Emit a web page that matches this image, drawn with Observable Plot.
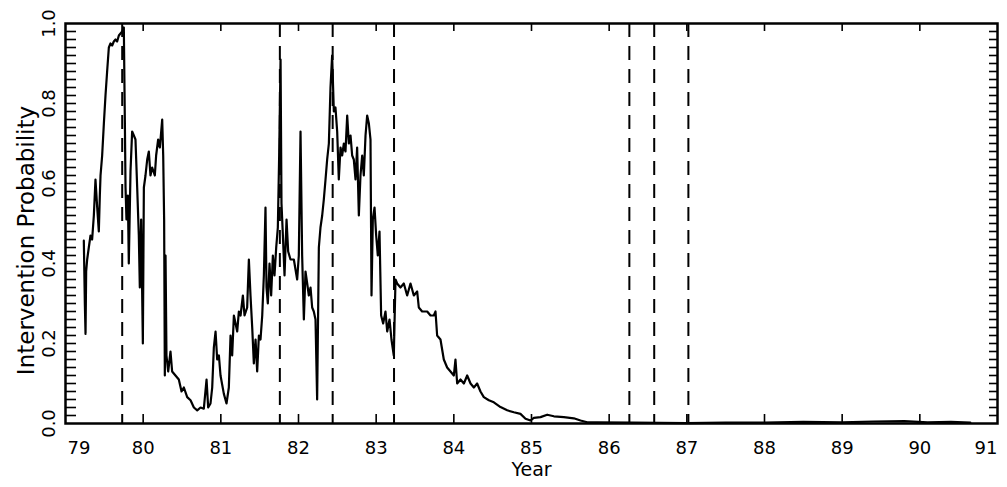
<!DOCTYPE html>
<html><head><meta charset="utf-8">
<script src="https://cdn.jsdelivr.net/npm/d3@7"></script>
<script src="https://cdn.jsdelivr.net/npm/@observablehq/plot@0.6"></script>
<style>body{margin:0;background:#fff}</style>
</head><body><div id="chart"></div>
<script>
const years = [79.236,79.249,79.258,79.266,79.279,79.300,79.322,79.343,79.365,79.386,79.408,79.429,79.442,79.451,79.472,79.494,79.515,79.536,79.558,79.579,79.601,79.622,79.644,79.665,79.687,79.708,79.730,79.751,79.764,79.773,79.785,79.803,79.815,79.837,79.858,79.880,79.901,79.923,79.944,79.957,79.974,79.996,80.009,80.030,80.052,80.073,80.094,80.116,80.150,80.167,80.193,80.215,80.245,80.258,80.270,80.279,80.288,80.300,80.322,80.352,80.373,80.416,80.459,80.494,80.524,80.567,80.610,80.653,80.696,80.739,80.781,80.816,80.837,80.867,80.889,80.910,80.932,80.953,80.975,80.996,81.039,81.073,81.103,81.125,81.146,81.168,81.211,81.232,81.254,81.284,81.305,81.339,81.361,81.382,81.404,81.425,81.447,81.468,81.490,81.511,81.533,81.554,81.575,81.588,81.605,81.627,81.648,81.670,81.691,81.713,81.734,81.751,81.769,81.781,81.799,81.820,81.846,81.867,81.897,81.940,81.983,82.004,82.026,82.047,82.069,82.090,82.112,82.133,82.155,82.176,82.197,82.219,82.240,82.262,82.283,82.305,82.326,82.348,82.369,82.391,82.412,82.433,82.455,82.476,82.498,82.519,82.541,82.562,82.584,82.605,82.627,82.648,82.670,82.691,82.712,82.734,82.755,82.777,82.798,82.820,82.841,82.863,82.884,82.906,82.927,82.940,82.957,82.979,83.000,83.021,83.043,83.064,83.090,83.120,83.142,83.172,83.197,83.227,83.249,83.270,83.313,83.356,83.399,83.442,83.485,83.528,83.549,83.592,83.657,83.700,83.742,83.764,83.785,83.828,83.871,83.914,83.957,84.000,84.021,84.043,84.086,84.129,84.172,84.215,84.258,84.300,84.343,84.386,84.451,84.515,84.601,84.687,84.773,84.858,84.923,84.987,85.030,85.116,85.202,85.288,85.416,85.545,85.631,85.717,85.845,86.300,87.000,87.500,88.000,88.500,89.000,89.400,89.800,90.100,90.400,90.650];
const probs = [0.457,0.30,0.224,0.38,0.41,0.44,0.47,0.46,0.52,0.61,0.54,0.48,0.57,0.62,0.67,0.75,0.82,0.88,0.94,0.95,0.945,0.955,0.96,0.955,0.97,0.975,0.98,0.99,0.76,0.59,0.51,0.57,0.40,0.63,0.73,0.72,0.71,0.59,0.47,0.34,0.51,0.20,0.59,0.62,0.66,0.68,0.62,0.64,0.62,0.67,0.71,0.69,0.76,0.67,0.51,0.12,0.42,0.17,0.13,0.18,0.13,0.12,0.11,0.08,0.09,0.066,0.058,0.04,0.033,0.04,0.037,0.11,0.04,0.05,0.09,0.19,0.23,0.16,0.17,0.12,0.074,0.05,0.09,0.22,0.17,0.27,0.23,0.28,0.27,0.32,0.27,0.29,0.41,0.32,0.24,0.15,0.21,0.13,0.22,0.21,0.27,0.37,0.54,0.34,0.30,0.40,0.32,0.42,0.37,0.44,0.49,0.67,0.91,0.55,0.47,0.37,0.51,0.43,0.41,0.41,0.36,0.42,0.73,0.42,0.26,0.38,0.35,0.32,0.34,0.29,0.28,0.26,0.06,0.44,0.49,0.52,0.56,0.61,0.66,0.70,0.84,0.92,0.78,0.79,0.73,0.61,0.69,0.67,0.70,0.68,0.77,0.70,0.72,0.67,0.66,0.61,0.69,0.52,0.62,0.67,0.62,0.72,0.77,0.75,0.71,0.32,0.51,0.54,0.47,0.42,0.48,0.27,0.25,0.28,0.23,0.26,0.21,0.17,0.36,0.35,0.34,0.35,0.32,0.35,0.32,0.33,0.29,0.28,0.28,0.27,0.27,0.28,0.22,0.21,0.16,0.14,0.13,0.12,0.16,0.10,0.11,0.10,0.12,0.10,0.09,0.10,0.08,0.066,0.058,0.053,0.041,0.033,0.028,0.024,0.012,0.0075,0.014,0.016,0.022,0.018,0.016,0.013,0.0075,0.003,0.003,0.002,0.001,0.002,0.002,0.004,0.003,0.005,0.006,0.003,0.004,0.002];
const interventionYears = [79.73, 81.76, 82.44, 83.23, 86.26, 86.58, 87.02];
const xTickValues = [79, 80, 81, 82, 83, 84, 85, 86, 87, 88, 89, 90, 91];
const yTickValues = [0, 0.2, 0.4, 0.6, 0.8, 1.0];
const xTitle = "Year";
const yTitle = "Intervention Probability";

const data = years.map((year, i) => ({year, p: probs[i]}));
const yMinor = d3.range(0.02, 0.99, 0.02);
const innerX = xTickValues.slice(1, -1);
const fmt = d3.format(".1f");
const x0 = xTickValues[0], x1 = xTickValues[xTickValues.length - 1];
// tick lengths in px converted through the scale span (plot area 932 x 400 px)
const pxX = (x1 - x0) / 932, pxY = 1 / 400;

const chart = Plot.plot({
  width: 1007, height: 487,
  marginLeft: 65, marginRight: 10, marginTop: 23, marginBottom: 64,
  x: {domain: [x0, x1], axis: null},
  y: {domain: [0, 1], axis: null},
  style: {fontFamily: "'DejaVu Sans', sans-serif", fontSize: "18px", color: "black", background: "white"},
  marks: [
    Plot.ruleX(interventionYears, {strokeWidth: 2, strokeDasharray: "14,9", stroke: "black"}),
    Plot.line(data, {x: "year", y: "p", stroke: "black", strokeWidth: 2.2}),
    Plot.ruleX(innerX, {y1: 0, y2: 9 * pxY, stroke: "black", strokeWidth: 1.6}),
    Plot.ruleX(innerX, {y1: 1 - 8 * pxY, y2: 1, stroke: "black", strokeWidth: 1.6}),
    Plot.ruleY(yMinor, {x1: x0, x2: x0 + 11 * pxX, stroke: "black", strokeWidth: 1.6}),
    Plot.ruleY(yMinor, {x1: x1 - 8 * pxX, x2: x1, stroke: "black", strokeWidth: 1.6}),
    Plot.frame({stroke: "black", strokeWidth: 2.5}),
    Plot.text(innerX, {x: d => d, text: d => String(d), frameAnchor: "bottom", dy: 30, lineAnchor: "bottom", textAnchor: "middle", fontSize: 18}),
    Plot.text([x0], {x: d => d, text: d => String(d), frameAnchor: "bottom", dy: 30, dx: 2, lineAnchor: "bottom", textAnchor: "start", fontSize: 18}),
    Plot.text([x1], {x: d => d, text: d => String(d), frameAnchor: "bottom", dy: 30, lineAnchor: "bottom", textAnchor: "end", fontSize: 18}),
    Plot.text(yTickValues, {y: d => d, text: d => fmt(d), frameAnchor: "left", dx: -11, rotate: -90, lineAnchor: "bottom", textAnchor: "middle", fontSize: 18}),
    Plot.text([xTitle], {frameAnchor: "bottom", dy: 52, lineAnchor: "bottom", textAnchor: "middle", fontSize: 19}),
    Plot.text([yTitle], {frameAnchor: "left", dx: -32, dy: 17, rotate: -90, lineAnchor: "bottom", textAnchor: "middle", fontSize: 23})
  ]
});
document.getElementById("chart").append(chart);
</script>
</body></html>
